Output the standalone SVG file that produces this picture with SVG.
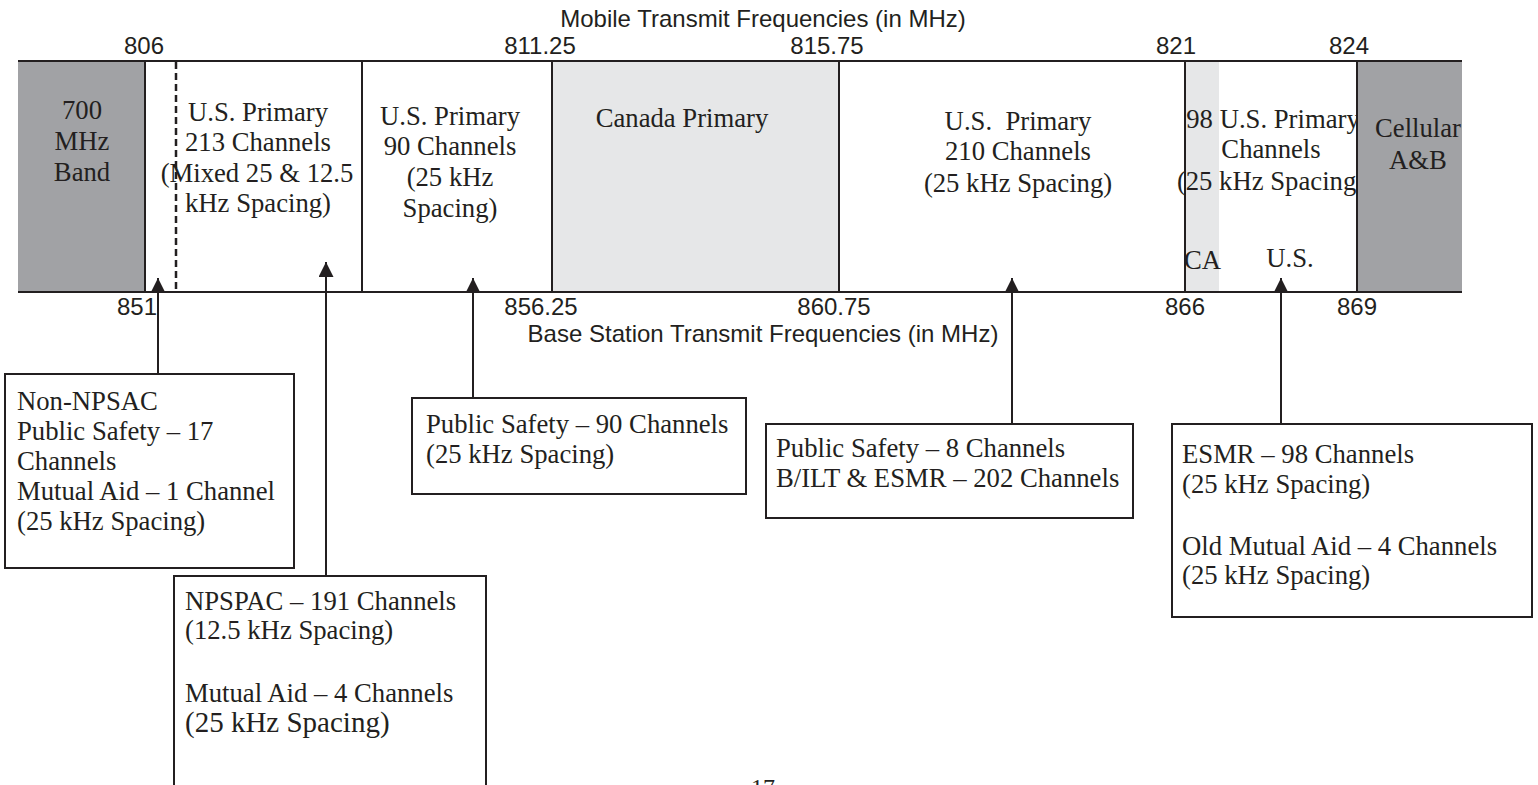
<svg xmlns="http://www.w3.org/2000/svg" width="1538" height="785" viewBox="0 0 1538 785">
  <style>
    .sans { font-family: "Liberation Sans", Arial, sans-serif; font-size: 24px; fill: #231f20; }
    .serif { font-family: "Liberation Serif", "Times New Roman", serif; font-size: 26.7px; fill: #231f20; }
    .mid { text-anchor: middle; }
    .ln { stroke: #231f20; stroke-width: 2; fill: none; }
    .box { stroke: #231f20; stroke-width: 2; fill: #ffffff; }
    .dark { fill: #a1a2a5; }
    .light { fill: #e6e7e8; }
  </style>
  <defs>
    <marker id="tri" viewBox="0 0 14 14" refX="14" refY="7" markerWidth="15" markerHeight="15" markerUnits="userSpaceOnUse" orient="auto">
      <path d="M0,0 L14,7 L0,14 Z" fill="#231f20"/>
    </marker>
  </defs>

  <rect width="1538" height="785" fill="#ffffff"/>

  <!-- axis titles and frequency ticks -->
  <g id="axis-labels">
    <text class="sans mid" x="763" y="27">Mobile Transmit Frequencies (in MHz)</text>
    <text class="sans mid" x="144" y="54">806</text>
    <text class="sans mid" x="540" y="54">811.25</text>
    <text class="sans mid" x="827" y="54">815.75</text>
    <text class="sans mid" x="1176" y="54">821</text>
    <text class="sans mid" x="1349" y="54">824</text>
    <text class="sans mid" x="137" y="315">851</text>
    <text class="sans mid" x="541" y="315">856.25</text>
    <text class="sans mid" x="834" y="315">860.75</text>
    <text class="sans mid" x="1185" y="315">866</text>
    <text class="sans mid" x="1357" y="315">869</text>
    <text class="sans mid" x="763" y="342">Base Station Transmit Frequencies (in MHz)</text>
  </g>

  <!-- band segments -->
  <g id="band-700">
    <rect class="dark" x="18" y="61" width="127" height="231"/>
    <text class="serif mid" x="82" y="119">700</text>
    <text class="serif mid" x="82" y="150">MHz</text>
    <text class="serif mid" x="82" y="181">Band</text>
  </g>
  <g id="band-us213">
    <line x1="176" y1="62" x2="176" y2="291" stroke="#231f20" stroke-width="2.5" stroke-dasharray="7,4"/>
    <text class="serif mid" x="258" y="121">U.S. Primary</text>
    <text class="serif mid" x="258" y="151">213 Channels</text>
    <text class="serif mid" x="257" y="182">(Mixed 25 &amp; 12.5</text>
    <text class="serif mid" x="258" y="212">kHz Spacing)</text>
  </g>
  <g id="band-us90">
    <text class="serif mid" x="450" y="125">U.S. Primary</text>
    <text class="serif mid" x="450" y="155">90 Channels</text>
    <text class="serif mid" x="450" y="186">(25 kHz</text>
    <text class="serif mid" x="450" y="217">Spacing)</text>
  </g>
  <g id="band-canada">
    <rect class="light" x="552" y="61" width="287" height="231"/>
    <text class="serif mid" x="682" y="127">Canada Primary</text>
  </g>
  <g id="band-us210">
    <text class="serif mid" x="1018" y="130" xml:space="preserve">U.S.  Primary</text>
    <text class="serif mid" x="1018" y="160">210 Channels</text>
    <text class="serif mid" x="1018" y="192">(25 kHz Spacing)</text>
  </g>
  <g id="band-us98">
    <rect class="light" x="1185" y="61" width="34" height="231"/>
    <text class="serif mid" x="1273" y="128">98 U.S. Primary</text>
    <text class="serif mid" x="1271" y="158">Channels</text>
    <text class="serif mid" x="1271" y="190">(25 kHz Spacing)</text>
    <text class="serif" x="1184" y="269">CA</text>
    <text class="serif mid" x="1290" y="267">U.S.</text>
  </g>
  <g id="band-cellular">
    <rect class="dark" x="1357" y="61" width="105" height="231"/>
    <text class="serif mid" x="1418" y="137">Cellular</text>
    <text class="serif mid" x="1418" y="169">A&amp;B</text>
  </g>

  <!-- band frame: rails and dividers -->
  <g id="band-frame">
    <line class="ln" x1="18" y1="61" x2="1462" y2="61"/>
    <line class="ln" x1="18" y1="292" x2="1462" y2="292"/>
    <line class="ln" x1="145" y1="61" x2="145" y2="292"/>
    <line class="ln" x1="362" y1="61" x2="362" y2="292"/>
    <line class="ln" x1="552" y1="61" x2="552" y2="292"/>
    <line class="ln" x1="839" y1="61" x2="839" y2="292"/>
    <line class="ln" x1="1185" y1="61" x2="1185" y2="292"/>
    <line class="ln" x1="1357" y1="61" x2="1357" y2="292"/>
  </g>

  <!-- callout boxes -->
  <g id="note-non-npspac">
    <rect class="box" x="5" y="374" width="289" height="194"/>
    <text class="serif" x="17" y="410">Non-NPSAC</text>
    <text class="serif" x="17" y="440">Public Safety – 17</text>
    <text class="serif" x="17" y="470">Channels</text>
    <text class="serif" x="17" y="500">Mutual Aid – 1 Channel</text>
    <text class="serif" x="17" y="530">(25 kHz Spacing)</text>
  </g>
  <g id="note-npspac">
    <rect class="box" x="174" y="576" width="312" height="260"/>
    <text class="serif" x="185" y="610">NPSPAC – 191 Channels</text>
    <text class="serif" x="185" y="639">(12.5 kHz Spacing)</text>
    <text class="serif" x="185" y="702">Mutual Aid – 4 Channels</text>
    <text class="serif" x="185" y="732" style="font-size:29px">(25 kHz Spacing)</text>
  </g>
  <g id="note-ps90">
    <rect class="box" x="412" y="398" width="334" height="96"/>
    <text class="serif" x="426" y="433">Public Safety – 90 Channels</text>
    <text class="serif" x="426" y="463">(25 kHz Spacing)</text>
  </g>
  <g id="note-ps8">
    <rect class="box" x="766" y="424" width="367" height="94"/>
    <text class="serif" x="776" y="457">Public Safety – 8 Channels</text>
    <text class="serif" x="776" y="487">B/ILT &amp; ESMR – 202 Channels</text>
  </g>
  <g id="note-esmr">
    <rect class="box" x="1172" y="424" width="360" height="193"/>
    <text class="serif" x="1182" y="463">ESMR – 98 Channels</text>
    <text class="serif" x="1182" y="493">(25 kHz Spacing)</text>
    <text class="serif" x="1182" y="555">Old Mutual Aid – 4 Channels</text>
    <text class="serif" x="1182" y="584">(25 kHz Spacing)</text>
  </g>

  <!-- pointers from callouts up to the band -->
  <g id="connectors">
    <line class="ln" x1="158" y1="374" x2="158" y2="278" marker-end="url(#tri)"/>
    <line class="ln" x1="326" y1="576" x2="326" y2="262" marker-end="url(#tri)"/>
    <line class="ln" x1="473" y1="398" x2="473" y2="278" marker-end="url(#tri)"/>
    <line class="ln" x1="1012" y1="424" x2="1012" y2="278" marker-end="url(#tri)"/>
    <line class="ln" x1="1281" y1="424" x2="1281" y2="278" marker-end="url(#tri)"/>
  </g>

  <!-- page number -->
  <text class="serif mid" x="763" y="795" style="font-size:24px">17</text>
</svg>
